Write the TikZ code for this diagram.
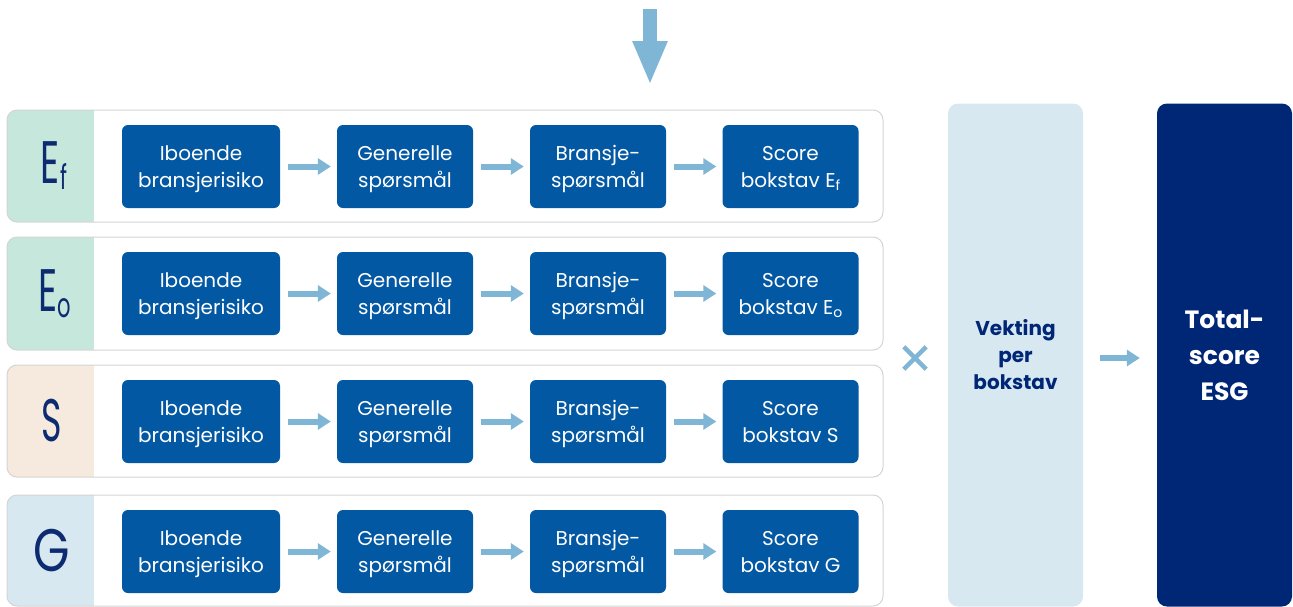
\documentclass[tikz,border=0pt]{standalone}
\usepackage{fontspec}
\setmainfont{Poppins}
\usetikzlibrary{arrows.meta}
\definecolor{boxblue}{HTML}{0358A3}
\definecolor{arrowblue}{HTML}{7FB6D6}
\definecolor{navy}{HTML}{002776}
\definecolor{letternavy}{HTML}{0D2B70}
\definecolor{mint}{HTML}{C6E7DB}
\definecolor{peach}{HTML}{F6E9DD}
\definecolor{paleblue}{HTML}{D8E8F1}
\definecolor{bordergray}{HTML}{D4D4D4}
\tikzset{
  stepbox/.style={rounded corners=6pt, fill=boxblue, text=white, minimum height=83pt,
    minimum width=136pt, inner sep=0pt, align=center, text depth=0pt, font=\fontsize{20}{27}\selectfont},
  rowbox/.style={rounded corners=10pt, draw=bordergray, line width=1pt, minimum width=876pt,
    minimum height=112pt, inner sep=0pt},
  flowarrow/.style={draw=arrowblue, line width=6pt, -{Triangle[length=13pt,width=16pt]},
    shorten <=8pt, shorten >=6pt},
  letter/.style={text=letternavy, font=\fontsize{60}{60}\selectfont, inner sep=0pt},
  bigbox/.style={rounded corners=10pt, minimum width=135pt, minimum height=503pt, inner sep=0pt, align=center}
}
\newcommand{\subf}[1]{{\fontsize{34}{34}\selectfont\raisebox{-6pt}{#1}}}
\newcommand{\subs}[1]{{\fontsize{14}{14}\selectfont\raisebox{-3pt}{#1}}}
\begin{document}
\begin{tikzpicture}[x=1pt,y=-1pt]
\useasboundingbox (0,0) rectangle (1293,606);
% row panels
\foreach \ya/\yb/\col in {110/222/mint, 237/350/mint, 365/477/peach, 495/606/paleblue}{
  \begin{scope}
    \clip[rounded corners=10pt] (7,\ya) rectangle (883,\yb);
    \fill[\col] (7,\ya) rectangle (94,\yb);
  \end{scope}
}
\node[rowbox] (r1) at (445,166) {};
\node[rowbox, minimum height=113pt] (r2) at (445,293.5) {};
\node[rowbox] (r3) at (445,421) {};
\node[rowbox, minimum height=111pt] (r4) at (445,550.5) {};
% letters
\node[letter] (l1) at (54,166) {\scalebox{0.62}[1]{E\subf{f}}};
\node[letter] (l2) at (55,293.5) {\scalebox{0.62}[1]{E\subf{o}}};
\node[letter] (l3) at (52,421) {\scalebox{0.58}[1]{S}};
\node[letter] (l4) at (52,551) {\scalebox{0.78}[1]{G}};
% step boxes
\foreach \r/\y/\sub in {1/166.5/{E\subs{f}}, 2/293.5/{E\subs{o}}, 3/421.5/S, 4/551.5/G}{
  \node[stepbox, minimum width=158pt] (a\r) at (201,\y) {Iboende\\bransjerisiko};
  \node[stepbox] (b\r) at (405,\y) {Generelle\\spørsmål};
  \node[stepbox] (c\r) at (598,\y) {Bransje-\\spørsmål};
  \node[stepbox] (d\r) at (790.5,\y) {Score\\bokstav \sub};
  \draw[flowarrow] (a\r) -- (b\r);
  \draw[flowarrow] (b\r) -- (c\r);
  \draw[flowarrow] (c\r) -- (d\r);
}
% top arrow
\coordinate (tstart) at (650,9);
\coordinate (tend) at (650,85);
\draw[draw=arrowblue, line width=14pt, -{Triangle[length=44pt,width=32pt]}] (tstart) -- (tend);
% times sign
\node[inner sep=0pt, minimum size=22pt] (times) at (915,358) {};
\draw[arrowblue, line width=4.5pt] (times.north west) -- (times.south east);
\draw[arrowblue, line width=4.5pt] (times.north east) -- (times.south west);
% right boxes
\node[bigbox, fill=paleblue, text=navy, font=\bfseries\fontsize{20}{27}\selectfont] (vek) at (1015.5,355) {Vekting\\per\\bokstav};
\node[bigbox, fill=navy, text=white, font=\bfseries\fontsize{25}{36}\selectfont] (tot) at (1224.5,355) {Total-\\score\\ESG};
\draw[draw=arrowblue, line width=6pt, -{Triangle[length=13pt,width=16pt]}, shorten <=17pt, shorten >=17pt] (vek.east |- 0,358) -- (tot.west |- 0,358);
\end{tikzpicture}
\end{document}
